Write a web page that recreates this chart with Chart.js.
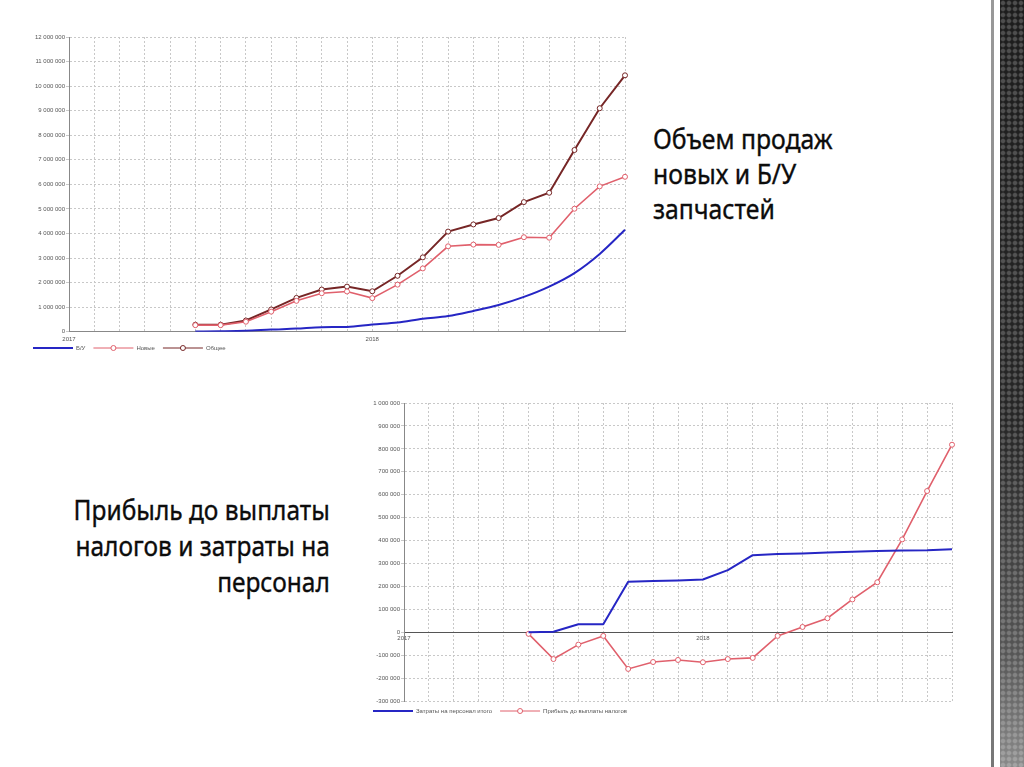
<!DOCTYPE html>
<html>
<head>
<meta charset="utf-8">
<script src="https://cdn.jsdelivr.net/npm/chart.js"></script>
<style>
  body { margin: 0; width: 1024px; height: 767px; background: #fff; position: relative; overflow: hidden; }
  canvas { position: absolute; }
  .caption { position: absolute; font-family: "Noto Sans", sans-serif; font-size: 28px; color: #0c0c0c; white-space: nowrap; -webkit-text-stroke: 0.35px #0c0c0c; }
  #cap1 { left: 653px; top: 121px; line-height: 35px; transform: scaleX(0.885); transform-origin: left top; }
  #cap2 { right: 694px; top: 491px; line-height: 36px; text-align: right; transform: scaleX(0.875); transform-origin: right top; }
  #edgeLine { position: absolute; left: 991px; top: 0; width: 3px; height: 767px; background: linear-gradient(#999, #777); }
  #edge { position: absolute; left: 1000px; top: 0; width: 24px; height: 767px;
    background: radial-gradient(circle, rgba(255,255,255,0.22) 1.5px, rgba(255,255,255,0) 3px) 0 0 / 6px 6px,
                linear-gradient(to bottom, #1c1c1c 0%, #262626 55%, #555 85%, #8a8a8a 100%); }
</style>
</head>
<body>
<canvas id="sales" width="615" height="339" style="left:25px;top:32px"></canvas>
<canvas id="profit" width="605" height="330" style="left:365px;top:395px"></canvas>
<div id="cap1" class="caption">Объем продаж<br>новых и Б/У<br>запчастей</div>
<div id="cap2" class="caption">Прибыль до выплаты<br>налогов и затраты на<br>персонал</div>
<div id="edgeLine"></div>
<div id="edge"></div>
<script>
// месяцы с января 2017 по ноябрь 2018
const months = ['2017', '', '', '', '', '', '', '', '', '', '', '', '2018', '', '', '', '', '', '', '', '', '', ''];

// объем продаж
const salesUsed = [null, null, null, null, null, 10000, 20000, 40000, 90000, 130000, 190000, 200000, 300000, 380000, 530000, 640000, 850000, 1090000, 1420000, 1840000, 2390000, 3170000, 4150000];
const salesNew = [null, null, null, null, null, 270000, 270000, 410000, 820000, 1260000, 1570000, 1640000, 1370000, 1920000, 2580000, 3480000, 3550000, 3540000, 3850000, 3830000, 5010000, 5920000, 6310000];
const salesTotal = [null, null, null, null, null, 290000, 290000, 460000, 910000, 1380000, 1720000, 1840000, 1650000, 2280000, 3030000, 4080000, 4370000, 4630000, 5280000, 5660000, 7400000, 9100000, 10440000];

// затраты и прибыль
const staffCost = [null, null, null, null, null, 0, 2000, 35000, 35000, 220000, 223000, 226000, 230000, 271000, 336000, 341000, 344000, 348000, 351000, 354000, 357000, 358000, 362000];
const profitBeforeTax = [null, null, null, null, null, -7000, -117000, -54000, -16000, -160000, -130000, -121000, -131000, -117000, -112000, -16000, 23000, 61000, 143000, 218000, 405000, 616000, 818000];

const BLUE = '#2626c4';
const PINK = '#e0606c';
const DARK = '#762626';

const tickFont = { family: 'Liberation Sans', size: 6 };
const fmt = v => String(v).replace(/\B(?=(\d{3})+(?!\d))/g, ' ');

// легенда: подтянуть ближе к оси и нарисовать кружки на линиях
const legendTweak = {
    id: 'legendTweak',
    afterUpdate(chart, args, opts) {
        const lg = chart.legend;
        const dy = opts.shift || 0;
        lg.top -= dy;
        lg.bottom -= dy;
        lg.legendHitBoxes.forEach(b => { b.top -= dy; });
    },
    afterDraw(chart) {
        const lg = chart.legend;
        const ctx = chart.ctx;
        lg.legendItems.forEach((item, i) => {
            const ds = chart.data.datasets[item.datasetIndex];
            if (!ds.pointRadius) return;
            const box = lg.legendHitBoxes[i];
            ctx.save();
            ctx.beginPath();
            ctx.arc(box.left + 20, box.top + box.height / 2, 2.5, 0, Math.PI * 2);
            ctx.fillStyle = '#fff';
            ctx.fill();
            ctx.lineWidth = 1;
            ctx.strokeStyle = ds.borderColor;
            ctx.stroke();
            ctx.restore();
        });
    }
};

function baseOptions(yMin, yMax, step, xAtZero, yWidth, pad, shift) {
    return {
        responsive: false,
        animation: false,
        layout: { padding: pad },
        plugins: {
            legendTweak: { shift: shift },
            legend: {
                position: 'bottom',
                align: 'start',
                labels: {
                    usePointStyle: true,
                    pointStyle: 'line',
                    pointStyleWidth: 40,
                    boxHeight: 6,
                    padding: 8,
                    color: '#555',
                    font: { family: 'Liberation Sans', size: 6 }
                }
            },
            tooltip: { enabled: false }
        },
        scales: {
            x: {
                position: xAtZero ? { y: 0 } : 'bottom',
                grid: { color: '#c8c8c8', drawTicks: false },
                border: { color: xAtZero ? '#555' : '#888', dash: [2, 2] },
                ticks: { autoSkip: false, maxRotation: 0, padding: xAtZero ? 3 : 4, color: '#555', font: tickFont }
            },
            y: {
                min: yMin,
                max: yMax,
                afterFit: s => { s.width = yWidth; },
                grid: { color: '#c8c8c8', tickLength: 3 },
                border: { color: '#888', dash: [2, 2] },
                ticks: { stepSize: step, padding: 1, color: '#555', font: tickFont, callback: fmt }
            }
        }
    };
}

new Chart(document.getElementById('sales'), {
    type: 'line',
    data: {
        labels: months,
        datasets: [
            { label: 'Б/У', data: salesUsed, borderColor: BLUE, borderWidth: 2, pointRadius: 0, cubicInterpolationMode: 'monotone' },
            { label: 'Новые', data: salesNew, borderColor: PINK, backgroundColor: '#fff', borderWidth: 1.6, pointRadius: 2.5, pointBorderWidth: 1 },
            { label: 'Общее', data: salesTotal, borderColor: DARK, backgroundColor: '#fff', borderWidth: 2, pointRadius: 2.5, pointBorderWidth: 1 }
        ]
    },
    options: baseOptions(0, 12000000, 1000000, false, 44, { left: 0, right: 15, top: 4, bottom: 0 }, 10),
    plugins: [legendTweak]
});

new Chart(document.getElementById('profit'), {
    type: 'line',
    data: {
        labels: months,
        datasets: [
            { label: 'Затраты на персонал итого', data: staffCost, borderColor: BLUE, borderWidth: 2, pointRadius: 0, borderJoinStyle: 'round' },
            { label: 'Прибыль до выплаты налогов', data: profitBeforeTax, borderColor: PINK, backgroundColor: '#fff', borderWidth: 1.6, pointRadius: 2.5, pointBorderWidth: 1 }
        ]
    },
    options: baseOptions(-300000, 1000000, 100000, true, 39, { left: 0, right: 18, top: 8, bottom: 0 }, 1),
    plugins: [legendTweak]
});
</script>
</body>
</html>
